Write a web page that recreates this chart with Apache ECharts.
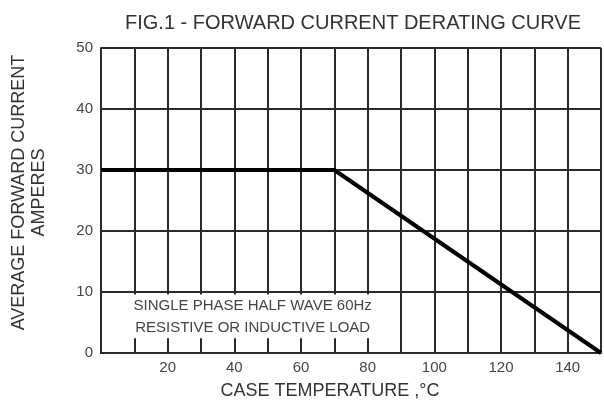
<!DOCTYPE html>
<html>
<head>
<meta charset="utf-8">
<script src="https://cdn.jsdelivr.net/npm/echarts@6/dist/echarts.min.js"></script>
<style>
  html, body { margin: 0; padding: 0; background: #fff; }
  #chart { width: 604px; height: 410px; }
</style>
</head>
<body>
<div id="chart"></div>
<script>
// derating curve: case temperature (C) vs average forward current (A)
const tempPoints = [0, 70, 150]
const currentPoints = [30, 30, 0]
const xTickLabels = [20, 40, 60, 80, 100, 120, 140]
const yTickLabels = [0, 10, 20, 30, 40, 50]
const noteLines = ['SINGLE PHASE HALF WAVE 60Hz', 'RESISTIVE OR INDUCTIVE LOAD']
// note box corners in data units
const noteBox = [[0.4, 2.4], [84, 9.6]]

const font = '"Liberation Sans", Arial, sans-serif'
const gridColor = '#2a2a2a'

const chart = echarts.init(document.getElementById('chart'), null, { renderer: 'canvas' })

chart.setOption({
  backgroundColor: '#fff',
  animation: false,
  title: {
    text: 'FIG.1 - FORWARD CURRENT DERATING CURVE',
    left: 348,
    textAlign: 'center',
    top: 8,
    textStyle: { fontFamily: font, fontSize: 20, fontWeight: 'normal', color: '#333' }
  },
  grid: { left: 101, right: 1, top: 48, bottom: 57 },
  xAxis: {
    type: 'value',
    min: 0,
    max: 150,
    interval: 10,
    name: 'CASE TEMPERATURE ,\u00B0C',
    nameLocation: 'middle',
    nameGap: 29,
    nameTextStyle: { fontFamily: font, fontSize: 18, color: '#333', padding: [0, 42, 0, 0] },
    axisLine: { show: true, lineStyle: { color: gridColor, width: 2 } },
    axisTick: { show: false },
    axisLabel: {
      margin: 7,
      fontFamily: font,
      fontSize: 15,
      color: '#444',
      formatter: v => xTickLabels.includes(v) ? String(v) : ''
    },
    splitLine: { show: true, lineStyle: { color: gridColor, width: 2 } }
  },
  yAxis: {
    type: 'value',
    min: 0,
    max: 50,
    interval: 10,
    name: 'AVERAGE FORWARD CURRENT\nAMPERES',
    nameLocation: 'middle',
    nameRotate: 90,
    nameGap: 52,
    nameTextStyle: { fontFamily: font, fontSize: 18, color: '#333', lineHeight: 20, padding: [0, 0, 0, 16] },
    axisLine: { show: true, lineStyle: { color: gridColor, width: 2 } },
    axisTick: { show: false },
    axisLabel: {
      margin: 8,
      fontFamily: font,
      fontSize: 15,
      color: '#444',
      formatter: v => yTickLabels.includes(v) ? String(v) : ''
    },
    splitLine: { show: true, lineStyle: { color: gridColor, width: 2 } }
  },
  series: [
    {
      type: 'line',
      data: tempPoints.map((t, i) => [t, currentPoints[i]]),
      symbol: 'none',
      lineStyle: { color: '#000', width: 4 },
      markArea: {
        silent: true,
        itemStyle: { color: '#fff' },
        label: {
          show: true,
          position: 'inside',
          offset: [11, 0],
          formatter: noteLines.join('\n'),
          fontFamily: font,
          fontSize: 15,
          lineHeight: 22,
          color: '#444'
        },
        data: [[{ coord: noteBox[0] }, { coord: noteBox[1] }]]
      }
    }
  ]
})
</script>
</body>
</html>
